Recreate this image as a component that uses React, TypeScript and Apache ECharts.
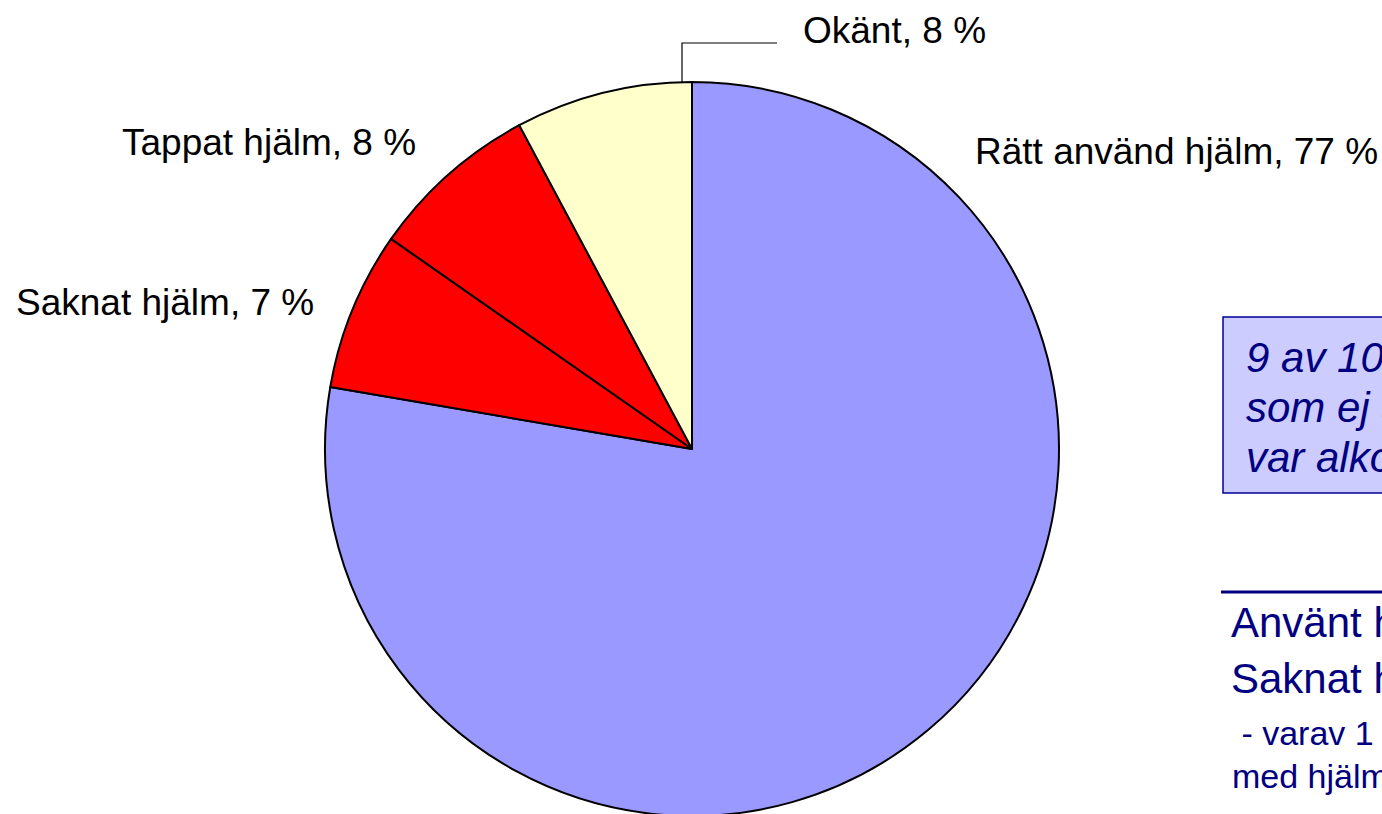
import React, { useEffect, useRef } from 'react';
import * as echarts from 'echarts';

const CATEGORIES = ['Rätt använd hjälm', 'Saknat hjälm', 'Tappat hjälm', 'Okänt'];
const SHARES = [77.7, 7.0, 7.5, 7.8];
const LABEL_PCT = [77, 7, 8, 8];
const COLORS = ['#9999FF', '#FF0000', '#FF0000', '#FFFFCC'];
const BOX_LINES = ['9 av 10 omkomna cyklister', 'som ej använt hjälm', 'var alkoholpåverkade'];
const NOTE_LINES = ['Använt hjälm', 'Saknat hjälm'];
const SUB_LINES = [' - varav 1', 'med hjälm'];

const FONT = '"Liberation Sans", Arial, Helvetica, sans-serif';
const NAVY = '#000080';

const LABEL_XY: [number, number][] = [
  [975, 151],
  [16, 302],
  [122, 142],
  [803, 30],
];

export default function App() {
  const ref = useRef<HTMLDivElement>(null);
  useEffect(() => {
    if (!ref.current) return;
    const chart = echarts.init(ref.current, null, { renderer: 'svg' });
    const data = CATEGORIES.map((name, i) => ({
      name,
      value: SHARES[i],
      itemStyle: { color: COLORS[i] },
      labelLine: { show: i === 3 },
    }));
    const graphics: any[] = [
      {
        type: 'rect',
        shape: { x: 1223, y: 317, width: 400, height: 176 },
        style: { fill: '#CCCCFF', stroke: '#000099', lineWidth: 1.5 },
      },
      ...BOX_LINES.map((t, i) => ({
        type: 'text',
        x: 1246,
        y: 357 + i * 50,
        style: {
          text: t,
          fill: NAVY,
          font: `italic 42px ${FONT}`,
          verticalAlign: 'middle',
          align: 'left',
        },
      })),
      {
        type: 'line',
        shape: { x1: 1221, y1: 592, x2: 1400, y2: 592 },
        style: { stroke: NAVY, lineWidth: 3 },
      },
      ...NOTE_LINES.map((t, i) => ({
        type: 'text',
        x: 1231,
        y: 622 + i * 56,
        style: { text: t, fill: NAVY, font: `42px ${FONT}`, verticalAlign: 'middle', align: 'left' },
      })),
      ...SUB_LINES.map((t, i) => ({
        type: 'text',
        x: 1232,
        y: 733 + i * 43,
        style: { text: t, fill: NAVY, font: `34px ${FONT}`, verticalAlign: 'middle', align: 'left' },
      })),
    ];
    chart.setOption({
      animation: false,
      backgroundColor: '#FFFFFF',
      series: [
        {
          type: 'pie',
          center: [692, 449],
          radius: 367,
          startAngle: 90,
          clockwise: true,
          avoidLabelOverlap: false,
          itemStyle: { borderColor: '#000000', borderWidth: 2 },
          label: {
            show: true,
            position: 'outside',
            color: '#000000',
            fontFamily: FONT,
            fontSize: 37,
            formatter: (p: any) => `${p.name}, ${LABEL_PCT[p.dataIndex]} %`,
          },
          labelLine: { lineStyle: { color: '#000000', width: 1.2 } },
          labelLayout: (p: any) => {
            const i = p.dataIndex;
            const res: any = {
              x: LABEL_XY[i][0],
              y: LABEL_XY[i][1],
              align: 'left',
              verticalAlign: 'middle',
            };
            if (i === 3) {
              res.labelLinePoints = [
                [682, 82],
                [682, 43],
                [777, 43],
              ];
            }
            return res;
          },
          emphasis: { disabled: true },
          data,
        },
      ],
      graphic: graphics,
    });
    return () => chart.dispose();
  }, []);
  return (
    <div
      ref={ref}
      style={{ position: 'absolute', left: 0, top: 0, width: 1382, height: 814, overflow: 'hidden' }}
    />
  );
}
